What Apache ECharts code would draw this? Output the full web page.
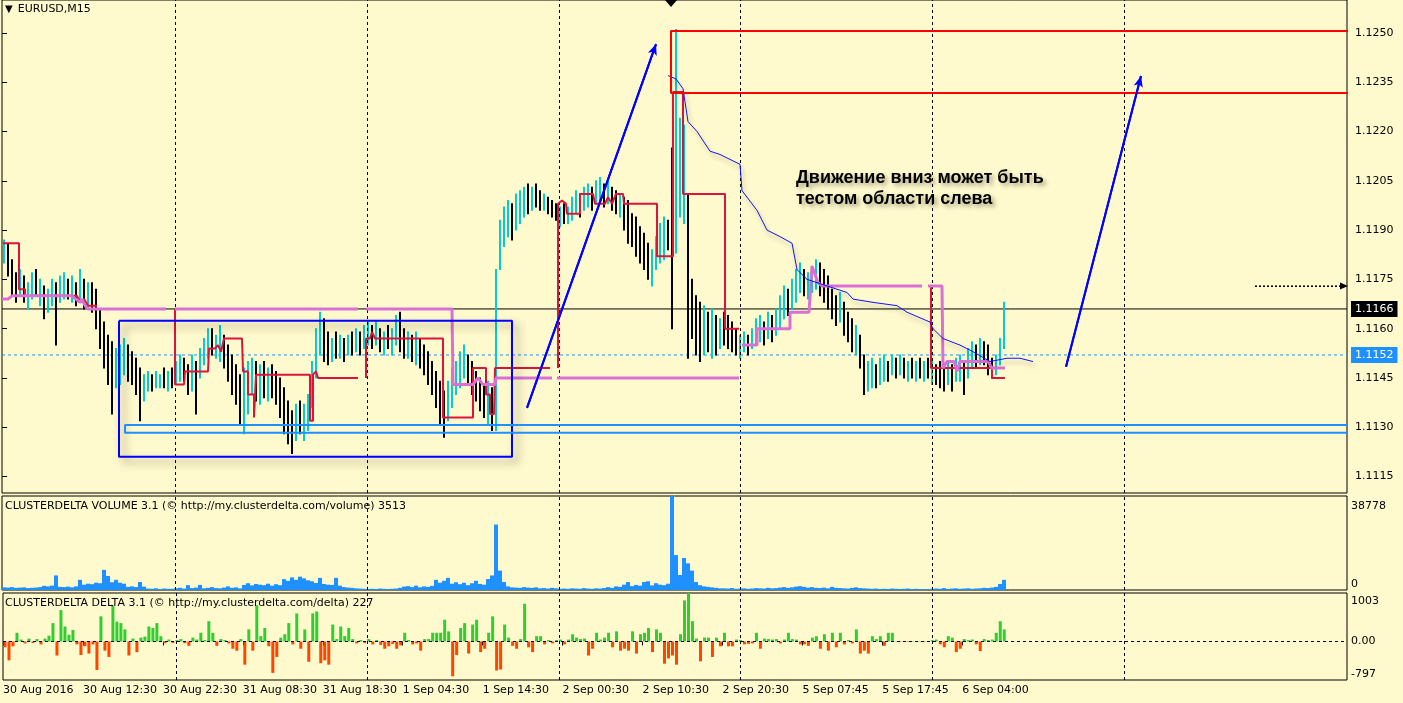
<!DOCTYPE html>
<html><head><meta charset="utf-8">
<script src="https://cdn.jsdelivr.net/npm/echarts/dist/echarts.min.js"></script>
<style>html,body{margin:0;padding:0;background:#FFFACD;}#c{width:1403px;height:703px;}</style>
</head><body><div id="c"></div>
<script>
// ---------- DATA ----------
// one bar = 30 minutes; axis position of bar i is i + 0.5
const barHigh = [
1.1187,1.1186,1.1181,1.1177,1.1178,1.1176,1.1174,1.1177,1.1178,1.1175,
1.1173,1.1172,1.1175,1.1174,1.1176,1.1177,1.1175,1.1176,1.1174,1.1178,
1.1175,1.1174,1.1174,1.1172,1.1166,1.1162,1.1158,1.1156,1.1154,1.1155,
1.1157,1.1155,1.1153,1.1151,1.1148,1.1146,1.1147,1.1146,1.1147,1.1146,
1.1148,1.1147,1.1148,1.1150,1.1152,1.1151,1.1149,1.1152,1.1150,1.1154,
1.1157,1.1160,1.1160,1.1158,1.1161,1.1158,1.1155,1.1152,1.1149,1.1146,
1.1148,1.1150,1.1151,1.1150,1.1149,1.1150,1.1148,1.1149,1.1147,1.1145,
1.1142,1.1138,1.1135,1.1137,1.1138,1.1137,1.1140,1.1150,1.1160,1.1165,
1.1163,1.1159,1.1157,1.1159,1.1158,1.1157,1.1158,1.1159,1.1160,1.1159,
1.1161,1.1162,1.1161,1.1162,1.1160,1.1159,1.1161,1.1160,1.1164,1.1165,
1.1160,1.1159,1.1158,1.1159,1.1157,1.1155,1.1153,1.1150,1.1147,1.1144,
1.1141,1.1144,1.1148,1.1150,1.1153,1.1155,1.1152,1.1150,1.1147,1.1145,
1.1143,1.1144,1.1142,1.1178,1.1193,1.1197,1.1199,1.1198,1.1201,1.1202,
1.1203,1.1204,1.1203,1.1204,1.1202,1.1201,1.1200,1.1199,1.1198,1.1197,
1.1198,1.1197,1.1200,1.1202,1.1201,1.1203,1.1204,1.1203,1.1205,1.1206,
1.1204,1.1205,1.1203,1.1202,1.1201,1.1200,1.1199,1.1195,1.1194,1.1191,
1.1189,1.1186,1.1184,1.1188,1.1192,1.1194,1.1193,1.1215,1.1251,1.1224,
1.1222,1.1201,1.1175,1.1170,1.1168,1.1167,1.1165,1.1166,1.1164,1.1163,
1.1165,1.1164,1.1162,1.1160,1.1158,1.1159,1.1158,1.1160,1.1163,1.1164,
1.1162,1.1165,1.1164,1.1166,1.1170,1.1173,1.1172,1.1175,1.1178,1.1180,
1.1178,1.1177,1.1179,1.1181,1.1180,1.1178,1.1176,1.1172,1.1170,1.1171,
1.1168,1.1165,1.1163,1.1161,1.1158,1.1152,1.1150,1.1151,1.1149,1.1151,
1.1152,1.1150,1.1152,1.1151,1.1152,1.1151,1.1150,1.1151,1.1150,1.1151,
1.1150,1.1151,1.1150,1.1149,1.1150,1.1148,1.1150,1.1149,1.1151,1.1152,
1.1150,1.1154,1.1156,1.1155,1.1157,1.1156,1.1155,1.1151,1.1152,1.1157,1.1168];
const barLow = [
1.1180,1.1176,1.1170,1.1168,1.1170,1.1168,1.1166,1.1169,1.1170,1.1167,
1.1163,1.1165,1.1167,1.1155,1.1168,1.1169,1.1169,1.1168,1.1167,1.1168,
1.1166,1.1166,1.1165,1.1160,1.1154,1.1148,1.1143,1.1134,1.1142,1.1143,
1.1146,1.1144,1.1143,1.1140,1.1132,1.1138,1.1141,1.1141,1.1142,1.1142,
1.1142,1.1141,1.1142,1.1143,1.1144,1.1144,1.1140,1.1141,1.1134,1.1145,
1.1149,1.1151,1.1152,1.1151,1.1150,1.1148,1.1144,1.1140,1.1137,1.1131,
1.1128,1.1134,1.1140,1.1138,1.1137,1.1139,1.1138,1.1139,1.1137,1.1133,
1.1128,1.1125,1.1122,1.1126,1.1128,1.1126,1.1129,1.1136,1.1145,1.1152,
1.1150,1.1149,1.1150,1.1151,1.1151,1.1150,1.1152,1.1152,1.1153,1.1152,
1.1154,1.1155,1.1154,1.1155,1.1153,1.1152,1.1154,1.1152,1.1155,1.1153,
1.1151,1.1151,1.1150,1.1149,1.1148,1.1146,1.1143,1.1140,1.1136,1.1131,
1.1127,1.1132,1.1136,1.1140,1.1142,1.1145,1.1143,1.1140,1.1138,1.1135,
1.1133,1.1131,1.1129,1.1129,1.1178,1.1185,1.1188,1.1187,1.1190,1.1192,
1.1194,1.1195,1.1196,1.1197,1.1196,1.1196,1.1195,1.1194,1.1193,1.1191,
1.1192,1.1192,1.1193,1.1195,1.1194,1.1196,1.1197,1.1196,1.1198,1.1199,
1.1197,1.1198,1.1196,1.1195,1.1194,1.1190,1.1186,1.1185,1.1182,1.1180,
1.1178,1.1175,1.1173,1.1178,1.1180,1.1181,1.1184,1.1160,1.1183,1.1194,
1.1192,1.1151,1.1157,1.1152,1.1150,1.1152,1.1153,1.1151,1.1152,1.1154,
1.1155,1.1154,1.1153,1.1152,1.1151,1.1153,1.1152,1.1154,1.1155,1.1156,
1.1155,1.1157,1.1156,1.1158,1.1160,1.1163,1.1164,1.1166,1.1168,1.1171,
1.1170,1.1169,1.1171,1.1172,1.1170,1.1168,1.1166,1.1163,1.1161,1.1162,
1.1158,1.1156,1.1153,1.1152,1.1148,1.1140,1.1141,1.1142,1.1142,1.1143,
1.1144,1.1144,1.1146,1.1145,1.1146,1.1145,1.1144,1.1145,1.1144,1.1145,
1.1144,1.1145,1.1143,1.1143,1.1142,1.1141,1.1143,1.1141,1.1144,1.1144,
1.1140,1.1145,1.1148,1.1148,1.1149,1.1149,1.1146,1.1145,1.1146,1.1149,1.1154];
// u = up bar (turquoise), d = down bar (black)
const barDir =
'uddduduudu'+'duuduududu'+'dudddddduu'+'udddduuduu'+'duduuddudu'+
'uuduuddddd'+'uuudududdd'+'ddduduuuuu'+'ddudududud'+'uudududuud'+
'dududddddd'+'duuuuudddd'+'duduuuuduu'+'ududdudddu'+'duuuduuduu'+
'dudduddddd'+'dduuuudduu'+'uddddududu'+'dddduuduuu'+'duduuuduuu'+
'duuudddddu'+'dddudduudu'+'ududududud'+'ududdduduu'+'duududdduuu';
const volume = [
1100,1000,1200,900,1000,1100,800,900,1000,1200,
1700,1500,1800,6000,1300,1200,1400,1100,1500,4200,
2200,2600,2400,3000,2800,8300,5800,3200,4200,3000,
2600,1300,1500,1200,3300,1400,600,500,700,400,
600,500,500,700,900,600,2000,800,1000,2100,
700,900,1200,800,700,1000,1500,900,1100,700,
2100,2800,1900,2500,2200,2000,2600,1800,2400,2000,
4500,3800,5200,4200,5500,4800,4000,3600,2900,5000,
2500,2200,2100,5000,1800,1200,1000,900,700,600,
500,400,500,400,600,500,400,500,600,900,
1400,1600,1200,1800,1100,1500,1300,1700,4200,3000,
3800,5000,2600,3200,2400,3000,2000,2800,3800,2500,
2200,4500,6000,27000,8000,3300,1500,1100,1000,900,
1200,1000,900,1100,700,800,600,900,700,500,
600,500,700,600,500,800,600,500,700,600,
800,1200,900,1500,1300,2200,3300,1600,2100,1800,
3300,3600,1900,2800,2200,2000,2600,38778,14400,6200,
13200,11000,8000,3300,2000,1500,1300,1100,900,700,
700,600,800,500,600,700,500,600,800,700,
600,900,700,800,1000,1200,900,1100,1400,1600,
1300,1000,1200,900,800,1000,700,1300,900,800,
700,600,900,1100,800,700,600,500,600,400,
500,400,600,500,400,500,600,400,500,400,
300,400,500,600,500,800,400,600,700,500,
600,700,500,600,700,900,800,1000,1300,2500,4200];
const delta = [
-120,-390,-100,180,40,-40,60,-30,50,-60,
60,120,380,-290,650,310,140,240,-60,-280,
-100,-250,-60,-590,520,-190,-320,740,410,380,
250,-290,60,-220,80,100,310,280,380,110,
-35,40,-30,30,50,-35,-90,80,40,180,
30,420,180,-90,50,30,-40,-150,-190,50,
-480,250,-190,750,110,280,-100,-650,-320,80,
150,380,-60,580,-150,250,-420,580,620,-450,
-390,-480,350,50,310,110,280,50,-40,30,
-30,50,-60,30,-70,-150,-100,-50,-150,-80,
180,30,-60,-40,-190,50,50,180,180,180,
450,210,-720,-280,280,380,-250,350,450,-220,
-150,180,520,-600,-580,350,80,-90,-150,50,
780,-120,-220,110,110,-60,30,-40,30,40,
-60,40,150,80,50,60,-290,-150,180,40,
80,180,-120,210,-190,-150,-190,210,-250,150,
180,280,-220,250,180,-460,-350,-290,-480,150,
850,1003,420,60,-410,80,80,-320,80,-100,
180,-100,-100,40,30,-60,-50,-40,180,-150,
60,50,40,50,-40,40,180,50,40,-60,
-60,-90,80,110,-150,150,-190,180,-120,180,
-60,30,-40,250,-250,-190,-250,110,50,110,
-90,180,180,10,-10,10,-10,10,-10,10,
-10,10,30,40,-60,-120,110,80,-220,-150,
50,30,40,-60,-200,50,30,40,180,420,250];

const priceTicks = [1.1115,1.1130,1.1145,1.1160,1.1175,1.1190,1.1205,1.1220,1.1235,1.1250];
const timeTicks = [0,20,40,60,80,100,120,140,160,180,200,220,240];
const timeLabels = ['30 Aug 2016','30 Aug 12:30','30 Aug 22:30','31 Aug 08:30','31 Aug 18:30','1 Sep 04:30',
  '1 Sep 14:30','2 Sep 00:30','2 Sep 10:30','2 Sep 20:30','5 Sep 07:45','5 Sep 17:45','6 Sep 04:00'];
const daySeparators = [43.25, 91.25, 139.25, 184.5, 232.5, 280.5];
const lastPrice = 1.1166, askPrice = 1.1152;
const volumeMax = 38778, deltaMax = 1003, deltaMin = -797;

// step lines (position, price)
const redLevels = [
 [[0.25,1.1186],[4.25,1.1186],[4.25,1.1172],[5.75,1.1172],[5.75,1.1170],[18.75,1.1170],[19.5,1.1168],[20.5,1.1169],[21.5,1.1167],[23.75,1.1167]],
 [[43.25,1.1166],[43.25,1.1143],[45.5,1.1143],[45.75,1.1147],[51.5,1.1147],[51.75,1.1154],[53.25,1.1154],[54,1.1155],[54.75,1.1153],[55.5,1.1157],[60,1.1157],[60.25,1.1147],[61.5,1.1147],[61.5,1.1140],[63,1.1140],[63,1.1133],[63.5,1.1133],[63.5,1.1146],[77,1.1146],[77,1.1132],[77.75,1.1132],[77.75,1.1146],[78.5,1.1147],[79,1.1145],[89,1.1145]],
 [[91,1.1145],[91,1.1157],[92,1.1157],[92.5,1.1159],[93.25,1.1157],[110.25,1.1157],[110.25,1.1133],[117.75,1.1133],[117.75,1.1148],[121,1.1148],[121,1.1140],[122,1.1140],[122,1.1134],[123,1.1134],[123.25,1.1148],[137,1.1148]],
 [[139,1.1148],[139,1.1198],[140,1.1199],[141,1.1198],[141.25,1.1195],[144.5,1.1195],[144.5,1.1201],[147.75,1.1201],[148.25,1.1198],[150.75,1.1198],[151.5,1.1200],[152.5,1.1198],[153.5,1.1201],[155.25,1.1201],[155.5,1.1198],[163.75,1.1198],[163.75,1.1182],[167.75,1.1182],[167.75,1.1232],[170.25,1.1232],[170.25,1.1201],[180.75,1.1201],[180.75,1.1160],[184.25,1.1160]],
 [[232.25,1.1173],[232.25,1.1148],[247.5,1.1148],[247.5,1.1145],[250.75,1.1145]]
];
const violetLevels = [
 [[0,1.1169],[1.5,1.1169],[2.5,1.1170],[17.5,1.1170],[18.5,1.1169],[19.5,1.1168],[20,1.1169],[20.75,1.1167],[21.5,1.1166],[41,1.1166]],
 [[43.25,1.1166],[89,1.1166]],
 [[91,1.1166],[112.5,1.1166],[112.75,1.1143],[117.75,1.1143],[119,1.1145],[120.25,1.1143],[123.25,1.1143],[123.5,1.1145],[137.5,1.1145]],
 [[138.75,1.1145],[184.25,1.1145]],
 [[185,1.1155],[188.75,1.1155],[188.75,1.1160],[197,1.1160],[197,1.1165],[201.75,1.1165],[202.5,1.1179],[204,1.1174],[205,1.1173],[230,1.1173]],
 [[231.5,1.1173],[235,1.1173],[235.25,1.1148],[236.25,1.1150],[238,1.1150],[238.75,1.1147],[239.5,1.1150],[246.5,1.1150],[247.5,1.1148],[250.75,1.1148]]
];
const vwapLine = [[166.5,1.1237],[168.5,1.1236],[170.25,1.1233],[171,1.1227],[171.5,1.1223],[173.75,1.1220],[177,1.1214],[179.5,1.1213],[184.5,1.1210],[185,1.1202],[188.75,1.1196],[191.25,1.1190],[194.5,1.1188],[197.5,1.1186],[198.75,1.1178],[201.25,1.1175],[206.25,1.1173],[211.25,1.1171],[212.75,1.1169],[217.75,1.1168],[223.75,1.1167],[226.25,1.1165],[232,1.1162],[232.75,1.1160],[235.25,1.1157],[239.5,1.1155],[242.75,1.1153],[247,1.1150],[251.25,1.1151],[254.5,1.1151],[257.75,1.1150]];

// drawn objects (position, price)
const blueBox = {x1: 29.25, x2: 127.5, top: 1.11624, bottom: 1.11210};
const supportZone = {x1: 30.75, x2: 340, top: 1.11307, bottom: 1.11283};
const resistZone = {x1: 167.25, x2: 340, top: 1.12506, bottom: 1.12317};
const arrows = [[[131.25,1.11359],[163.5,1.12466]], [[266,1.11484],[284.75,1.12369]]];
const alertLine = [[313.25,1.1173],[335.5,1.1173]];
const shiftMark = [167.25, 1.1260];

// ---------- CHART ----------
const FONT = 'DejaVu Sans';
const XMAX = 336.25;
const sepLines = daySeparators.map(v => ({xAxis: v, lineStyle: {color: '#000', type: [3, 3], width: 1}, label: {show: false}}));
const series = [];

function lineSeries(data, color, width, z, extra) {
  return Object.assign({type: 'line', xAxisIndex: 0, yAxisIndex: 0, data, symbol: 'none', showSymbol: false,
    silent: true, z, lineStyle: {color, width}}, extra || {});
}
function rectPath(r, closed) {
  return closed
    ? [[r.x1, r.top], [r.x2, r.top], [r.x2, r.bottom], [r.x1, r.bottom], [r.x1, r.top]]
    : [[r.x2, r.top], [r.x1, r.top], [r.x1, r.bottom], [r.x2, r.bottom]];
}
function levelSeries(price, color, type, bg) {
  return lineSeries([[0, price], [XMAX, price]], color, 1, 1, {
    clip: false,
    lineStyle: {color, width: 1, type},
    endLabel: {show: true, formatter: price.toFixed(4), distance: 4, backgroundColor: bg, color: '#fff',
      padding: [3, 4, 2, 4], fontFamily: FONT, fontSize: 11}
  });
}

// vertical day separators in the main panel (carried by the VWAP series)
series.push(levelSeries(lastPrice, '#000', 'solid', '#000'));
series.push(levelSeries(askPrice, '#1E90FF', [3, 3], '#1E90FF'));

// price bars
series.push({
  type: 'custom', xAxisIndex: 0, yAxisIndex: 0, z: 3, silent: true,
  data: barHigh.map((h, i) => [i + 0.5, barLow[i], h, barDir[i] === 'u' ? 1 : 0]),
  encode: {x: 0, y: [1, 2]},
  renderItem: (params, api) => {
    const x = api.value(0);
    const lo = api.coord([x, api.value(1)]);
    const hi = api.coord([x, api.value(2)]);
    return {type: 'line', shape: {x1: lo[0], y1: lo[1] + 0.5, x2: hi[0], y2: hi[1] - 0.5},
      style: {stroke: api.value(3) ? '#00CED1' : '#000000', lineWidth: 2}};
  }
});

redLevels.forEach(seg => series.push(lineSeries(seg, '#DC143C', 2, 5)));
violetLevels.forEach(seg => series.push(lineSeries(seg, '#DA70D6', 3, 6)));
series.push(lineSeries(vwapLine, '#1010FF', 1, 7, {
  lineStyle: {color: '#1010FF', width: 1, shadowColor: 'rgba(0,0,0,0.35)', shadowBlur: 4, shadowOffsetX: 2, shadowOffsetY: 4},
  markLine: {silent: true, animation: false, symbol: ['none', 'none'], data: sepLines}
}));
series.push(lineSeries(rectPath(blueBox, true), '#0000FF', 2, 8, {lineStyle: {color: '#0000FF', width: 2, shadowColor: 'rgba(0,0,0,0.45)', shadowBlur: 8, shadowOffsetX: 5, shadowOffsetY: 5}}));
series.push(lineSeries(rectPath(supportZone, false), '#1E90FF', 2, 8));
series.push(lineSeries(rectPath(resistZone, false), '#FF0000', 2, 8));

// arrows, alert line, chart-shift marker
arrows.forEach(a => series.push(lineSeries(a, '#0000FF', 2, 9, {
  markLine: {silent: true, animation: false, label: {show: false}, symbol: ['none', 'arrow'], symbolSize: [7, 11],
    lineStyle: {color: '#0000FF', width: 2, type: 'solid'}, data: [[{coord: a[0]}, {coord: a[1]}]]}
})));
series.push(lineSeries(alertLine, '#000', 1, 9, {
  lineStyle: {color: '#000', width: 1, type: [2, 2]},
  markLine: {silent: true, animation: false, label: {show: false}, symbol: ['none', 'triangle'], symbolSize: [7, 8],
    lineStyle: {color: '#000', width: 1, type: [2, 2]}, data: [[{coord: alertLine[0]}, {coord: alertLine[1]}]]},
  markPoint: {silent: true, animation: false, data: [{coord: shiftMark, symbol: 'diamond', symbolSize: [12, 14], itemStyle: {color: '#000'}, label: {show: false}}]}
}));

// volume
series.push({
  type: 'bar', xAxisIndex: 1, yAxisIndex: 1, z: 3, silent: true, barWidth: 4,
  data: volume.map((v, i) => [i + 0.5, v]), itemStyle: {color: '#1E90FF'},
  markLine: {silent: true, animation: false, symbol: ['none', 'none'], data: sepLines}
});
// delta
series.push({
  type: 'bar', xAxisIndex: 2, yAxisIndex: 2, z: 3, silent: true, barWidth: 3,
  data: delta.map((v, i) => [i + 0.5, v]),
  itemStyle: {color: p => p.value[1] >= 0 ? '#32CD32' : '#FF4500'},
  markLine: {silent: true, animation: false, symbol: ['none', 'none'],
    data: [...sepLines, {yAxis: 0, lineStyle: {color: '#000', type: [3, 3], width: 1}, label: {show: false}}]}
});

const gridBase = {left: 2, width: 1345, show: true, borderColor: '#000', borderWidth: 1, backgroundColor: 'transparent'};
const xBase = {type: 'value', min: 0, max: XMAX, splitLine: {show: false}, axisLine: {show: false}};

const option = {
  animation: false,
  backgroundColor: '#FFFACD',
  textStyle: {fontFamily: FONT, fontSize: 11, color: '#000'},
  title: [
    {text: '{t|▼}EURUSD,M15', left: 5, top: 4, padding: 0,
     textStyle: {fontFamily: FONT, fontSize: 11, fontWeight: 'normal', color: '#000',
       rich: {t: {fontSize: 10, padding: [0, 5, 0, 0], color: '#000', fontFamily: FONT}}}},
    {text: 'CLUSTERDELTA VOLUME 3.1 (© http://my.clusterdelta.com/volume) 3513', left: 5, top: 501, padding: 0,
     textStyle: {fontFamily: FONT, fontSize: 11, fontWeight: 'normal', color: '#000'}},
    {text: 'CLUSTERDELTA DELTA 3.1 (© http://my.clusterdelta.com/delta) 227', left: 5, top: 598, padding: 0,
     textStyle: {fontFamily: FONT, fontSize: 11, fontWeight: 'normal', color: '#000'}},
    {text: 'Движение вниз может быть\nтестом области слева', left: 796, top: 168, padding: 0,
     textStyle: {fontFamily: 'Liberation Sans', fontSize: 18, fontWeight: 'bold', color: '#000', lineHeight: 21,
       textShadowColor: 'rgba(0,0,0,0.35)', textShadowBlur: 4, textShadowOffsetX: 3, textShadowOffsetY: 3}}
  ],
  grid: [
    Object.assign({top: 0, height: 493}, gridBase),
    Object.assign({top: 496, height: 94}, gridBase),
    Object.assign({top: 593, height: 87}, gridBase)
  ],
  xAxis: [
    Object.assign({gridIndex: 0, show: false}, xBase),
    Object.assign({gridIndex: 1, show: false}, xBase),
    Object.assign({gridIndex: 2,
      axisTick: {show: true, customValues: timeTicks, length: 4, lineStyle: {color: '#000'}},
      axisLabel: {customValues: timeTicks, align: 'left', margin: 5, color: '#000', fontFamily: FONT, fontSize: 11,
        formatter: v => timeLabels[timeTicks.indexOf(v)] || ''}}, xBase)
  ],
  yAxis: [
    {gridIndex: 0, type: 'value', position: 'right', min: 1.1110, max: 1.1260, splitLine: {show: false}, axisLine: {show: false},
     axisTick: {show: true, customValues: priceTicks, length: 5, lineStyle: {color: '#000'}},
     axisLabel: {customValues: priceTicks, margin: 8, color: '#000', fontFamily: FONT, fontSize: 11, formatter: v => v.toFixed(4)}},
    {gridIndex: 1, type: 'value', position: 'right', min: 0, max: volumeMax, splitLine: {show: false}, axisLine: {show: false},
     axisTick: {show: false},
     axisLabel: {customValues: [0, volumeMax], margin: 4, color: '#000', fontFamily: FONT, fontSize: 11,
       formatter: v => v === 0 ? '{b|0}' : '{t|' + v + '}',
       rich: {t: {padding: [20, 0, 0, 0], fontFamily: FONT, fontSize: 11, color: '#000'}, b: {padding: [0, 0, 12, 0], fontFamily: FONT, fontSize: 11, color: '#000'}}}},
    {gridIndex: 2, type: 'value', position: 'right', min: deltaMin, max: deltaMax, splitLine: {show: false}, axisLine: {show: false},
     axisTick: {show: false},
     axisLabel: {customValues: [deltaMin, 0, deltaMax], margin: 4, color: '#000', fontFamily: FONT, fontSize: 11,
       formatter: v => v === 0 ? '0.00' : (v > 0 ? '{t|' + v + '}' : '{b|' + v + '}'),
       rich: {t: {padding: [17, 0, 0, 0], fontFamily: FONT, fontSize: 11, color: '#000'}, b: {padding: [0, 0, 12, 0], fontFamily: FONT, fontSize: 11, color: '#000'}}}}
  ],
  series
};
const chart = echarts.init(document.getElementById('c'), null, {renderer: 'canvas'});
chart.setOption(option);
</script></body></html>
